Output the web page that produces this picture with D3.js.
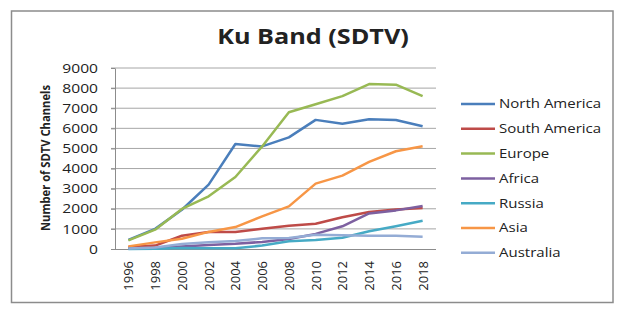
<!DOCTYPE html>
<html>
<head>
<meta charset="utf-8">
<script src="https://cdn.jsdelivr.net/npm/d3@7"></script>
<style>
  body { margin: 0; background: #fff; }
  text { font-family: "Open Sans", sans-serif; fill: #222; }
</style>
</head>
<body>
<div id="chart"></div>
<script>
// data
const years = ["1996","1998","2000","2002","2004","2006","2008","2010","2012","2014","2016","2018"];
const northAmerica = [450, 1000, 1950, 3200, 5220, 5100, 5550, 6420, 6230, 6450, 6410, 6100];
const southAmerica = [100, 170, 660, 850, 850, 1010, 1160, 1260, 1580, 1840, 1960, 2040];
const europe       = [430, 960, 1990, 2620, 3580, 5100, 6800, 7200, 7600, 8200, 8170, 7600];
const africa       = [20, 50, 130, 200, 260, 350, 500, 750, 1130, 1770, 1920, 2140];
const russia       = [0, 10, 50, 40, 40, 170, 380, 450, 560, 880, 1130, 1400];
const asia         = [130, 330, 510, 850, 1090, 1620, 2120, 3250, 3650, 4330, 4860, 5110];
const australia    = [30, 80, 250, 330, 400, 530, 550, 710, 680, 660, 660, 610];
const seriesNames  = ["North America","South America","Europe","Africa","Russia","Asia","Australia"];
const seriesColors = ["#4a7ebb","#be4b48","#98b954","#7d60a0","#46aac5","#f79646","#94acd5"];
const yTicks = [0,1000,2000,3000,4000,5000,6000,7000,8000,9000];

const allSeries = [northAmerica, southAmerica, europe, africa, russia, asia, australia];

const W = 619, H = 312;
const svg = d3.select("#chart").append("svg")
    .attr("width", W).attr("height", H);

// the source image is stretched sideways, so widen horizontal text a bit
const STRETCH = 1.2;
function stretch(sel) {
    sel.each(function() {
        const w = this.getComputedTextLength();
        d3.select(this).attr("textLength", w * STRETCH).attr("lengthAdjust", "spacingAndGlyphs");
    });
}

// outer frame
svg.append("rect")
    .attr("x", 11.5).attr("y", 11)
    .attr("width", 601.5).attr("height", 291.5)
    .attr("fill", "none").attr("stroke", "#8c8c8c").attr("stroke-width", 1.5);

// title
svg.append("text")
    .attr("x", 313).attr("y", 44)
    .attr("text-anchor", "middle")
    .style("font-size", "21px").style("font-weight", "bold")
    .text("Ku Band (SDTV)")
    .call(stretch);

const plot = {left: 115, right: 436, top: 68, bottom: 249};

const x = d3.scalePoint()
    .domain(years)
    .range([plot.left, plot.right])
    .padding(0.5);

const y = d3.scaleLinear()
    .domain([0, 9000])
    .range([plot.bottom, plot.top]);

// gridlines
svg.append("g")
    .selectAll("line")
    .data(yTicks.filter(d => d > 0))
    .enter()
    .append("line")
        .attr("x1", plot.left - 4).attr("x2", plot.right)
        .attr("y1", d => y(d)).attr("y2", d => y(d))
        .attr("stroke", "#a6a6a6").attr("stroke-width", 1);

// y axis
const yAxis = svg.append("g")
    .attr("transform", `translate(${plot.left},0)`)
    .call(d3.axisLeft(y).tickValues(yTicks).tickFormat(d3.format("d"))
        .tickSize(4).tickPadding(13).tickSizeOuter(0));
yAxis.select(".domain").attr("stroke", "#8c8c8c");
yAxis.selectAll(".tick line").attr("stroke", "#8c8c8c");
yAxis.selectAll("text")
    .style("font-size", "13px").style("font-family", "'Open Sans', sans-serif").attr("fill", "#222")
    .call(stretch);

// x axis
const xAxis = svg.append("g")
    .attr("transform", `translate(0,${plot.bottom})`)
    .call(d3.axisBottom(x).tickSize(0).tickSizeOuter(0));
xAxis.select(".domain")
    .attr("d", `M${plot.left - 4},0.5H${plot.right}`)
    .attr("stroke", "#8c8c8c");
xAxis.selectAll("text")
    .style("font-size", "13px").style("font-family", "'Open Sans', sans-serif").attr("fill", "#222")
    .attr("transform", "rotate(-90)")
    .attr("x", -12).attr("y", 0).attr("dy", "0.35em")
    .style("text-anchor", "end");

// y axis title
svg.append("text")
    .attr("transform", "translate(50,158) rotate(-90)")
    .attr("text-anchor", "middle")
    .style("font-size", "13px").style("font-weight", "bold")
    .text("Number of SDTV Channels")
    .attr("textLength", 146).attr("lengthAdjust", "spacingAndGlyphs");

// lines
const line = d3.line()
    .x((d, i) => x(years[i]))
    .y(d => y(d));

svg.append("g")
    .selectAll("path")
    .data(allSeries)
    .enter()
    .append("path")
        .attr("d", d => line(d))
        .attr("fill", "none")
        .attr("stroke", (d, i) => seriesColors[i])
        .attr("stroke-width", 2.5)
        .attr("stroke-linejoin", "round");

// legend
const legend = svg.append("g")
    .selectAll("g")
    .data(seriesNames)
    .enter()
    .append("g")
        .attr("transform", (d, i) => `translate(461,${104 + i * 24.8})`);
legend.append("line")
    .attr("x1", 0).attr("x2", 34)
    .attr("stroke", (d, i) => seriesColors[i])
    .attr("stroke-width", 2.5);
legend.append("text")
    .attr("x", 38).attr("dy", "0.35em")
    .style("font-size", "12.5px")
    .text(d => d)
    .call(stretch);
</script>
</body>
</html>
